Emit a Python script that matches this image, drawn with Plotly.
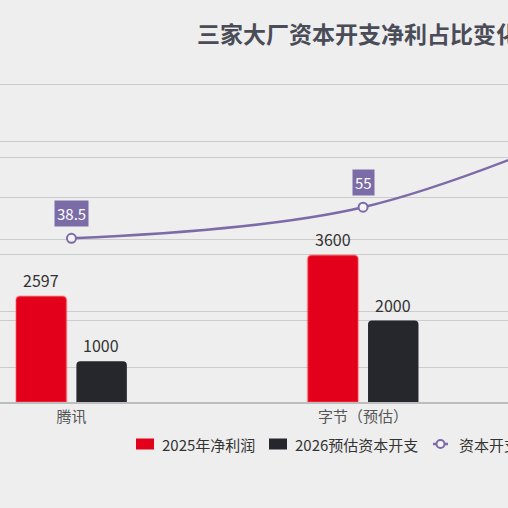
import plotly.graph_objects as go

# ---- data ----
categories = ["腾讯", "字节（预估）", "阿里"]
net_profit_2025 = [2597, 3600, 1250]
capex_2026 = [1000, 2000, 1400]
capex_ratio = [38.5, 55, 112]
series_names = ["2025年净利润", "2026预估资本开支", "资本开支净利占比(%)"]
title_text = "三家大厂资本开支净利占比变化"

W, H = 508, 508
PLOT_TOP, PLOT_BOT = 76, 402
FONT = "Noto Sans CJK SC, Noto Sans, sans-serif"
RED = "#e2001a"
DARK = "#25272c"
PURPLE = "#7b6ca8"
BG = "#eeeeee"


def px_x(p):
    return p / W


def px_y(p):
    return (PLOT_BOT - p) / (PLOT_BOT - PLOT_TOP)


fig = go.Figure()
fig.add_trace(go.Bar(
    x=categories, y=net_profit_2025, name=series_names[0],
    marker=dict(color=RED, cornerradius=4,
                line=dict(color="rgba(255,90,90,0.35)", width=2)),
    width=0.173, offset=-0.19,
    cliponaxis=True, showlegend=False,
))
fig.add_trace(go.Bar(
    x=categories, y=capex_2026, name=series_names[1],
    marker=dict(color=DARK, cornerradius=4, line=dict(width=0)),
    width=0.173, offset=0.017,
    cliponaxis=True, showlegend=False,
))
fig.add_trace(go.Scatter(
    x=categories, y=capex_ratio, name=series_names[2], yaxis="y2",
    mode="lines+markers",
    line=dict(color=PURPLE, width=2.5, shape="spline", smoothing=1),
    marker=dict(symbol="circle", size=9, color="#f4f4f4",
                line=dict(color=PURPLE, width=2)),
    cliponaxis=True, showlegend=False,
))

annotations = []
# bar value labels (only visible categories' labels fall inside the window)
for vals, xs in ((net_profit_2025, -30), (capex_2026, 30)):
    for c, v in zip(categories[:2], vals[:2]):
        annotations.append(dict(
            x=c, y=v, xref="x", yref="y", xshift=xs, yshift=16,
            showarrow=False, text=str(v), yanchor="middle",
            font=dict(size=16, color="#333333", family=FONT),
        ))
for c, v in zip(categories[:2], capex_ratio[:2]):
    annotations.append(dict(
        x=c, y=v, xref="x", yref="y2", yshift=25, showarrow=False,
        text=f"{v:g}", bgcolor=PURPLE, borderpad=2,
        font=dict(size=15, color="white", family=FONT),
    ))

# custom legend (bottom)
shapes = []
legend_items = [
    ("rect", RED, 136, series_names[0]),
    ("rect", DARK, 269, series_names[1]),
    ("line", PURPLE, 433, series_names[2]),
]
LY = 444
for kind, col, x0, name in legend_items:
    if kind == "rect":
        shapes.append(dict(type="rect", xref="paper", yref="paper",
                           x0=px_x(x0), x1=px_x(x0 + 18),
                           y0=px_y(LY + 5.5), y1=px_y(LY - 5.5),
                           fillcolor=col, line=dict(width=0)))
    else:
        shapes.append(dict(type="line", xref="paper", yref="paper",
                           x0=px_x(x0), x1=px_x(x0 + 15),
                           y0=px_y(LY), y1=px_y(LY),
                           line=dict(color=col, width=2.5)))
        shapes.append(dict(type="circle", xref="paper", yref="paper",
                           x0=px_x(x0 + 3.5), x1=px_x(x0 + 11.5),
                           y0=px_y(LY + 4), y1=px_y(LY - 4),
                           fillcolor="#f4f4f4", line=dict(color=col, width=2)))
    annotations.append(dict(
        x=px_x(x0 + 24), y=px_y(LY), xref="paper", yref="paper",
        xanchor="left", yanchor="middle", showarrow=False, text=name,
        font=dict(size=15, color="#333333", family=FONT),
    ))

fig.update_layout(
    width=W, height=H,
    margin=dict(l=0, r=0, t=PLOT_TOP, b=H - PLOT_BOT, pad=0),
    paper_bgcolor=BG, plot_bgcolor=BG,
    title=dict(text=f"<b>{title_text}</b>", x=px_x(197), xanchor="left",
               y=1 - 35 / H, yanchor="middle", yref="container",
               font=dict(size=23, color="#4a4c57", family=FONT)),
    xaxis=dict(type="category", range=[-0.245, 1.497], showgrid=False,
               showline=True, linecolor="#bdbdbd", linewidth=1.5,
               ticks="", tickfont=dict(size=15, color="#555555", family=FONT)),
    yaxis=dict(range=[0, 8000], dtick=2000, showgrid=True,
               gridcolor="#cccccc", gridwidth=1.3, showticklabels=False,
               zeroline=False),
    yaxis2=dict(range=[-48.2, 124.5], tick0=0, dtick=30, overlaying="y",
                side="right", showgrid=True, gridcolor="#cccccc",
                gridwidth=1.3, showticklabels=False, zeroline=False),
    showlegend=False,
    annotations=annotations,
    shapes=shapes,
)

fig.write_html("out.html")
